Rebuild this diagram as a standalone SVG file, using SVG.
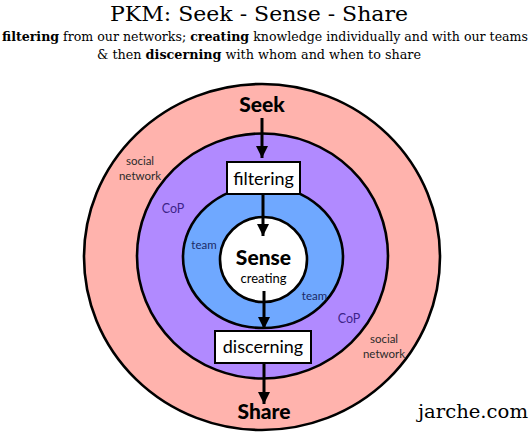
<svg xmlns="http://www.w3.org/2000/svg" width="530" height="442" viewBox="0 0 530 442">
<defs>
<marker id="ah" viewBox="0 0 10 10" refX="10" refY="5" markerWidth="4" markerHeight="4" orient="auto" markerUnits="strokeWidth">
<path d="M0,0 L10,5 L0,10 z" fill="#000"/>
</marker>
</defs>
<style>
.ring{stroke:#000;stroke-width:2.6}
.serif{font-family:"DejaVu Serif","Liberation Serif",serif;fill:#000}
.sans{font-family:Lato,"Open Sans","Liberation Sans",sans-serif}
.big{font-size:21px;font-weight:900;fill:#000;text-anchor:middle}
.box{fill:#fff;stroke:#000;stroke-width:2}
.boxt{font-size:18px;fill:#000;text-anchor:middle}
.sm{font-size:11.5px;text-anchor:middle}
.conn{stroke:#000;stroke-width:3;fill:none;marker-end:url(#ah)}
</style>
<rect width="530" height="442" fill="#fff"/>
<g id="title">
<text class="serif" x="110" y="21" font-size="21" textLength="298" lengthAdjust="spacingAndGlyphs">PKM: Seek - Sense - Share</text>
<text class="serif" x="2" y="41" font-size="12.5" textLength="526" lengthAdjust="spacingAndGlyphs"><tspan font-weight="bold">filtering</tspan> from our networks; <tspan font-weight="bold">creating</tspan> knowledge individually and with our teams</text>
<text class="serif" x="97" y="59" font-size="13" textLength="324" lengthAdjust="spacingAndGlyphs">&amp; then <tspan font-weight="bold">discerning</tspan> with whom and when to share</text>
</g>
<g id="social-network">
<ellipse class="ring" cx="262" cy="257" rx="178" ry="173" fill="#FFB3AD"/>
<text class="sans sm" fill="#2b2b2b"><tspan x="140" y="165">social</tspan><tspan x="140" y="180">network</tspan></text>
<text class="sans sm" fill="#2b2b2b"><tspan x="384" y="343">social</tspan><tspan x="384" y="358">network</tspan></text>
</g>
<g id="cop">
<ellipse class="ring" cx="262.5" cy="256" rx="125.5" ry="122.5" fill="#B18AFF"/>
<text class="sans" x="173" y="213" font-size="12.5" text-anchor="middle" fill="#3d2388">CoP</text>
<text class="sans" x="349" y="323" font-size="12.5" text-anchor="middle" fill="#3d2388">CoP</text>
</g>
<g id="team">
<ellipse class="ring" cx="263" cy="257" rx="80" ry="71" fill="#6FA8FF"/>
<text class="sans sm" x="204" y="249" fill="#1b2a66">team</text>
<text class="sans sm" x="314.5" y="300" fill="#1b2a66">team</text>
</g>
<g id="sense">
<ellipse class="ring" cx="263.5" cy="259.5" rx="43.5" ry="42.5" fill="#fff"/>
<text class="sans big" x="263.5" y="265">Sense</text>
<text class="sans" x="263.5" y="283" font-size="13" text-anchor="middle" fill="#000">creating</text>
</g>
<g id="seek">
<text class="sans big" x="262" y="112">Seek</text>
</g>
<g id="filtering">
<rect class="box" x="227" y="162" width="73" height="32"/>
<text class="sans boxt" x="263.5" y="185">filtering</text>
</g>
<g id="discerning">
<rect class="box" x="215" y="331" width="96" height="32"/>
<text class="sans boxt" x="263" y="353">discerning</text>
</g>
<g id="share">
<text class="sans big" x="264" y="419">Share</text>
</g>
<g id="connectors">
<line class="conn" x1="262" y1="118" x2="262" y2="158"/>
<line class="conn" x1="263" y1="195" x2="263" y2="236"/>
<line class="conn" x1="264" y1="291" x2="264" y2="329"/>
<line class="conn" x1="264" y1="364" x2="264" y2="404"/>
</g>
<g id="credit">
<text class="serif" x="418" y="418" font-size="18" textLength="110" lengthAdjust="spacingAndGlyphs">jarche.com</text>
</g>
</svg>
